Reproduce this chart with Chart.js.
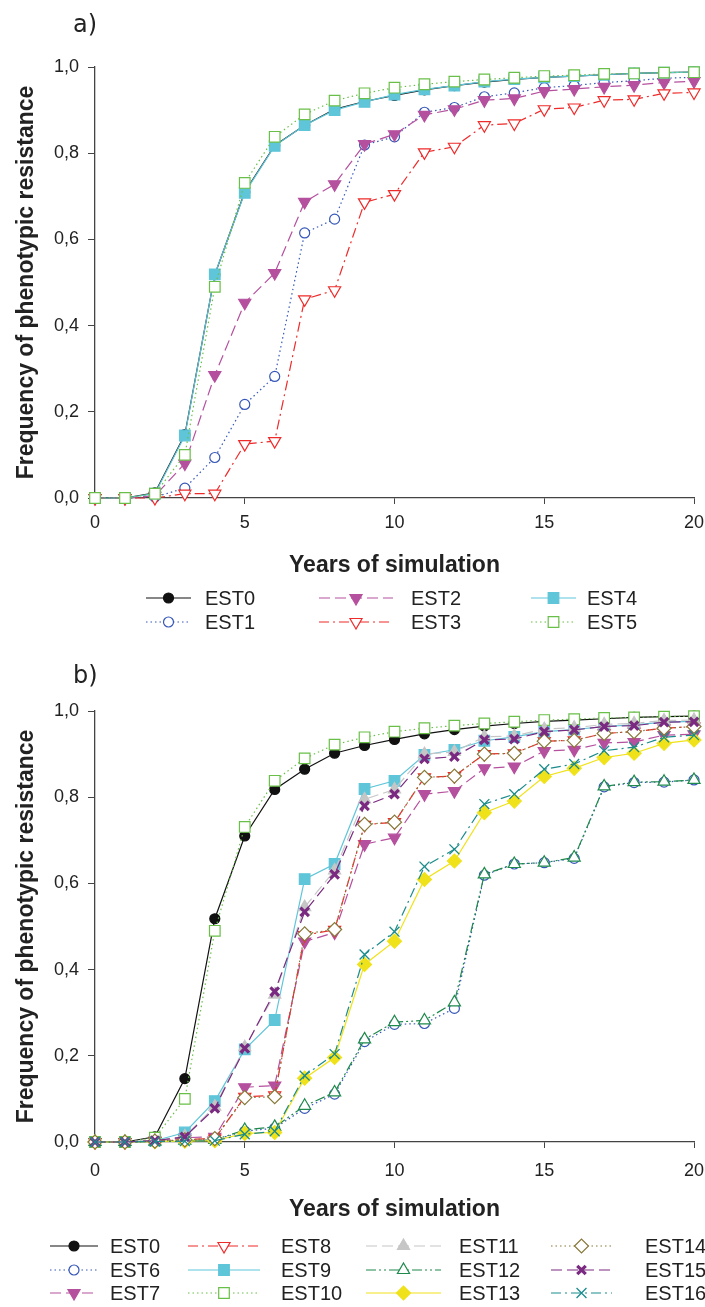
<!DOCTYPE html>
<html>
<head>
<meta charset="utf-8">
<script src="https://cdn.jsdelivr.net/npm/chart.js@4/dist/chart.umd.min.js"></script>
<style>
  body { margin: 0; background: #fff; }
  canvas { display: block; }
</style>
</head>
<body>
<canvas id="panelA" width="705" height="650"></canvas>
<canvas id="panelB" width="705" height="657"></canvas>
<script>
// years of simulation (x values)
const years = [0, 1, 2, 3, 4, 5, 6, 7, 8, 9, 10, 11, 12, 13, 14, 15, 16, 17, 18, 19, 20];
const xTicks = [0, 5, 10, 15, 20];
const yTicks = [0, 0.2, 0.4, 0.6, 0.8, 1.0];

// panel a)
const aEST0 = [0, 0, 0.012, 0.147, 0.518, 0.710, 0.818, 0.865, 0.902, 0.920, 0.934, 0.947, 0.957, 0.965, 0.971, 0.976, 0.979, 0.982, 0.985, 0.987, 0.988];
const aEST1 = [0, 0, 0.002, 0.023, 0.094, 0.217, 0.282, 0.615, 0.647, 0.819, 0.838, 0.895, 0.906, 0.931, 0.940, 0.952, 0.957, 0.964, 0.968, 0.974, 0.976];
const aEST2 = [0, 0, 0.005, 0.080, 0.285, 0.453, 0.522, 0.687, 0.728, 0.821, 0.844, 0.889, 0.902, 0.923, 0.927, 0.944, 0.949, 0.954, 0.958, 0.964, 0.967];
const aEST3 = [0, 0, 0.000, 0.010, 0.010, 0.125, 0.132, 0.461, 0.482, 0.686, 0.705, 0.802, 0.815, 0.865, 0.869, 0.902, 0.906, 0.923, 0.925, 0.939, 0.941];
const aEST4 = [0, 0, 0.010, 0.145, 0.519, 0.708, 0.817, 0.865, 0.900, 0.919, 0.936, 0.948, 0.957, 0.966, 0.972, 0.976, 0.979, 0.982, 0.985, 0.987, 0.988];
const aEST5 = [0, 0, 0.010, 0.100, 0.490, 0.731, 0.838, 0.890, 0.922, 0.939, 0.952, 0.960, 0.966, 0.971, 0.975, 0.979, 0.981, 0.984, 0.985, 0.987, 0.988];

// panel b)
const bEST0 = [0, 0, 0.012, 0.147, 0.518, 0.710, 0.818, 0.865, 0.902, 0.920, 0.934, 0.947, 0.957, 0.965, 0.971, 0.976, 0.979, 0.982, 0.985, 0.987, 0.988];
const bEST6 = [0, 0, 0.001, 0.003, 0.005, 0.025, 0.032, 0.078, 0.111, 0.233, 0.273, 0.275, 0.310, 0.619, 0.645, 0.648, 0.658, 0.824, 0.834, 0.835, 0.840];
const bEST7 = [0, 0, 0.003, 0.010, 0.012, 0.127, 0.131, 0.465, 0.486, 0.691, 0.706, 0.807, 0.814, 0.867, 0.871, 0.907, 0.910, 0.926, 0.928, 0.944, 0.946];
const bEST8 = [0, 0, 0.002, 0.006, 0.008, 0.105, 0.108, 0.480, 0.492, 0.736, 0.742, 0.846, 0.849, 0.900, 0.902, 0.930, 0.932, 0.948, 0.952, 0.960, 0.964];
const bEST9 = [0, 0, 0.003, 0.022, 0.095, 0.215, 0.283, 0.610, 0.645, 0.819, 0.838, 0.898, 0.910, 0.931, 0.940, 0.952, 0.957, 0.964, 0.968, 0.974, 0.976];
const bEST10 = [0, 0, 0.010, 0.100, 0.490, 0.731, 0.838, 0.890, 0.922, 0.939, 0.952, 0.960, 0.966, 0.971, 0.975, 0.979, 0.981, 0.984, 0.985, 0.987, 0.988];
const bEST11 = [0, 0, 0.003, 0.013, 0.082, 0.220, 0.342, 0.545, 0.630, 0.795, 0.818, 0.900, 0.905, 0.940, 0.942, 0.958, 0.961, 0.969, 0.971, 0.978, 0.979];
const bEST12 = [0, 0, 0.001, 0.003, 0.005, 0.028, 0.035, 0.084, 0.115, 0.238, 0.278, 0.282, 0.324, 0.621, 0.645, 0.648, 0.660, 0.825, 0.835, 0.836, 0.840];
const bEST13 = [0, 0, 0.001, 0.002, 0.003, 0.020, 0.022, 0.148, 0.196, 0.412, 0.466, 0.609, 0.652, 0.764, 0.791, 0.848, 0.867, 0.892, 0.902, 0.925, 0.933];
const bEST14 = [0, 0, 0.002, 0.005, 0.008, 0.103, 0.105, 0.483, 0.493, 0.737, 0.742, 0.846, 0.849, 0.900, 0.902, 0.930, 0.932, 0.948, 0.952, 0.960, 0.964];
const bEST15 = [0, 0, 0.003, 0.012, 0.078, 0.217, 0.349, 0.534, 0.621, 0.780, 0.807, 0.889, 0.894, 0.933, 0.935, 0.952, 0.956, 0.964, 0.966, 0.974, 0.975];
const bEST16 = [0, 0, 0.001, 0.002, 0.003, 0.018, 0.025, 0.154, 0.204, 0.435, 0.488, 0.639, 0.679, 0.784, 0.807, 0.865, 0.877, 0.908, 0.916, 0.939, 0.944];

// marker / line look of each strategy
const dotted = [1.5, 3];
const longDash = [11, 5];
const dashDot = [10, 4, 2, 4];
const dashDotDot = [10, 3, 2, 3, 2, 3];
const black = {color: "#111111", shape: "circle", r: 5, dash: []};
const blueCircle = {color: "#3657b8", shape: "circle", r: 5, dash: dotted, open: true};
const magentaTri = {color: "#b5509e", shape: "triangle", r: 7, rot: 180, dash: longDash};
const redTri = {color: "#ee2b2b", shape: "triangle", r: 7, rot: 180, dash: dashDot, open: true};
const cyanSq = {color: "#5fc5d9", shape: "rect", r: 7.5, dash: []};
const greenSq = {color: "#6abf48", shape: "rect", r: 7.5, dash: dotted, open: true};
const styles = {
  EST0: black, EST1: blueCircle, EST2: magentaTri, EST3: redTri, EST4: cyanSq, EST5: greenSq,
  EST6: blueCircle, EST7: magentaTri, EST8: redTri, EST9: cyanSq, EST10: greenSq,
  EST11: {color: "#c6c6c6", shape: "triangle", r: 7, dash: longDash},
  EST12: {color: "#1f8a4c", shape: "triangle", r: 7, dash: dashDotDot, open: true},
  EST13: {color: "#f0e21a", shape: "rectRot", r: 7, dash: []},
  EST14: {color: "#877838", shape: "rectRot", r: 7, dash: dotted, open: true},
  EST15: {color: "#7a2a80", shape: "crossRot", r: 6, dash: longDash, bw: 3.2},
  EST16: {color: "#1b8b8b", shape: "crossRot", r: 7, dash: dashDot, bw: 1.3}
};

function makeDataset(name, values, i, n) {
  const s = styles[name];
  return {
    label: name,
    data: years.map((x, k) => ({x, y: values[k]})),
    borderColor: s.color,
    borderWidth: 1.2,
    borderDash: s.dash,
    pointStyle: s.shape,
    pointRadius: s.r,
    pointHoverRadius: s.r,
    pointRotation: s.rot || 0,
    pointBackgroundColor: s.open ? "#ffffff" : s.color,
    pointBorderColor: s.color,
    pointBorderWidth: s.bw || 1.2,
    tension: 0,
    fill: false,
    clip: false,
    order: n - i
  };
}

const textColor = "#222222";
const axisColor = "#444444";
const font = "Liberation Sans";

// draws panel letter and a column-wise legend below the plot
const panelDecor = {
  id: "panelDecor",
  afterDraw(chart, args, opts) {
    const ctx = chart.ctx;
    ctx.save();
    ctx.fillStyle = textColor;
    ctx.font = '24px "DejaVu Sans"';
    ctx.textBaseline = "alphabetic";
    ctx.fillText(opts.letter, 73, opts.letterY);

    const nRows = opts.rows.length;
    chart.data.datasets.forEach((ds, i) => {
      const col = opts.cols[Math.floor(i / nRows)];
      const y = opts.rows[i % nRows];
      ctx.save();
      ctx.strokeStyle = ds.borderColor;
      ctx.lineWidth = ds.borderWidth;
      ctx.setLineDash(ds.borderDash);
      ctx.beginPath();
      ctx.moveTo(col[0], y);
      ctx.lineTo(col[1], y);
      ctx.stroke();
      ctx.setLineDash([]);
      ctx.fillStyle = ds.pointBackgroundColor;
      ctx.strokeStyle = ds.pointBorderColor;
      ctx.lineWidth = ds.pointBorderWidth;
      Chart.helpers.drawPoint(ctx, {
        pointStyle: ds.pointStyle,
        radius: ds.pointRadius,
        rotation: ds.pointRotation,
        borderWidth: ds.pointBorderWidth
      }, (col[0] + col[1]) / 2, y);
      ctx.restore();

      ctx.save();
      ctx.font = '20px "' + font + '"';
      ctx.textBaseline = "middle";
      ctx.fillStyle = textColor;
      ctx.fillText(ds.label, col[2], y + 1);
      ctx.restore();
    });
    ctx.restore();
  }
};

function makeChart(id, names, series, geo) {
  const n = names.length;
  return new Chart(document.getElementById(id), {
    type: "line",
    data: {datasets: names.map((name, i) => makeDataset(name, series[i], i, n))},
    options: {
      responsive: false,
      animation: false,
      devicePixelRatio: 1,
      layout: {padding: {top: geo.top, right: 11, bottom: geo.bottom, left: 0}},
      plugins: {
        legend: {display: false},
        tooltip: {enabled: false},
        panelDecor: geo.decor
      },
      scales: {
        x: {
          type: "linear",
          min: 0,
          max: 20,
          afterBuildTicks: (axis) => { axis.ticks = xTicks.map(v => ({value: v})); },
          ticks: {color: textColor, font: {size: 18, family: font}, padding: geo.xPad, maxRotation: 0},
          grid: {drawOnChartArea: false, tickLength: 6, color: axisColor, tickColor: axisColor},
          border: {color: axisColor, width: 1.3},
          title: {
            display: true,
            text: "Years of simulation",
            color: textColor,
            font: {size: 23, weight: "bold", family: font},
            padding: {top: 0, bottom: 0}
          },
          afterFit: (axis) => {
            axis.height = geo.xHeight;
            axis.paddingLeft = 0;
            axis.paddingRight = 0;
          }
        },
        y: {
          type: "linear",
          min: 0,
          max: 1,
          afterBuildTicks: (axis) => { axis.ticks = yTicks.map(v => ({value: v})); },
          ticks: {
            color: textColor,
            font: {size: 18, family: font},
            padding: 9,
            callback: (v) => v.toFixed(1).replace(".", ",")
          },
          grid: {drawOnChartArea: false, tickLength: 7, color: axisColor, tickColor: axisColor},
          border: {color: axisColor, width: 1.3},
          title: {
            display: true,
            text: "Frequency of phenotypic resistance",
            color: textColor,
            font: {size: 23, weight: "bold", family: font},
            padding: {top: 13, bottom: 0}
          },
          afterFit: (axis) => { axis.width = 95; }
        }
      }
    },
    plugins: [panelDecor]
  });
}

makeChart("panelA",
  ["EST0", "EST1", "EST2", "EST3", "EST4", "EST5"],
  [aEST0, aEST1, aEST2, aEST3, aEST4, aEST5],
  {
    top: 67, bottom: 71, xHeight: 81, xPad: 8,
    decor: {
      letter: "a)", letterY: 32,
      rows: [598, 622],
      cols: [[146, 191, 205], [319, 393, 411], [531, 576, 587]]
    }
  });

makeChart("panelB",
  ["EST0", "EST6", "EST7", "EST8", "EST9", "EST10", "EST11", "EST12", "EST13", "EST14", "EST15", "EST16"],
  [bEST0, bEST6, bEST7, bEST8, bEST9, bEST10, bEST11, bEST12, bEST13, bEST14, bEST15, bEST16],
  {
    top: 61, bottom: 84, xHeight: 81, xPad: 12,
    decor: {
      letter: "b)", letterY: 33,
      rows: [596, 620, 643],
      cols: [[50, 98, 110], [188, 260, 281], [366, 441, 459], [551, 612, 645]]
    }
  });
</script>
</body>
</html>
